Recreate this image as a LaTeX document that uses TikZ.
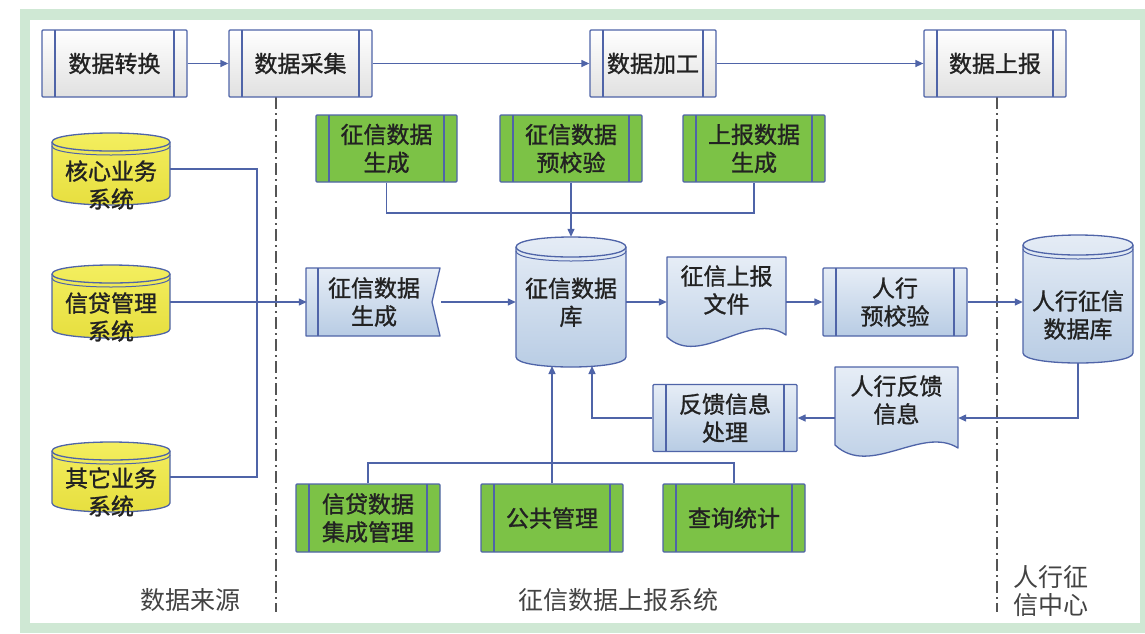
\documentclass[tikz,border=0pt]{standalone}
\usepackage{fontspec}
\newfontfamily\cjk[FakeBold=1.2]{Noto Sans CJK SC}
\newfontfamily\cjklab{Noto Sans CJK SC}
\usetikzlibrary{arrows.meta}
\definecolor{lineblue}{HTML}{4F64A8}
\definecolor{txt}{HTML}{222222}
\definecolor{boxgreen}{HTML}{7CC246}
\definecolor{lbtop}{HTML}{E6EDF6}
\definecolor{lbbot}{HTML}{B8CCE4}
\definecolor{ylw}{HTML}{F4EF60}
\definecolor{ylwb}{HTML}{E6DE3E}
\definecolor{framegreen}{HTML}{CFE8D4}
\definecolor{divgray}{HTML}{555555}

\newcommand\drawcyl[6]{%
  \path[#6, draw=lineblue, line width=1.3pt]
    (#1,{#3+#5}) -- (#1,{#4-#5})
    .. controls (#1,{#4+#5/3}) and (#2,{#4+#5/3}) .. (#2,{#4-#5})
    -- (#2,{#3+#5})
    .. controls (#2,{#3-#5/3}) and (#1,{#3-#5/3}) .. cycle;
  \draw[lineblue, line width=1.3pt]
    (#1,{#3+#5}) .. controls (#1,{#3+#5+4*#5/3}) and (#2,{#3+#5+4*#5/3}) .. (#2,{#3+#5});
  \draw[lineblue, line width=1pt]
    (#1,{#3+#5+4}) .. controls (#1,{#3+#5+4+4*#5/3}) and (#2,{#3+#5+4+4*#5/3}) .. (#2,{#3+#5+4});
}

\begin{document}
\begin{tikzpicture}[x=1pt,y=-1pt,
  base/.style={font=\cjk\fontsize{23}{28}\selectfont, text=txt, align=center, inner sep=0pt},
  proc/.style={base, rectangle, draw=lineblue, line width=1.3pt, rounded corners=1pt,
    path picture={\draw[lineblue, line width=1.3pt]
      ([xshift=13pt]path picture bounding box.north west) -- ([xshift=13pt]path picture bounding box.south west)
      ([xshift=-13pt]path picture bounding box.north east) -- ([xshift=-13pt]path picture bounding box.south east);}},
  topbox/.style={proc, top color=white, bottom color=black!12},
  greenbox/.style={proc, fill=boxgreen},
  bluebox/.style={proc, top color=lbtop, bottom color=lbbot},
  ghost/.style={base, rectangle},
  conn/.style={draw=lineblue, line width=1.3pt},
  arr/.style={conn, -{Triangle[length=8pt,width=7pt]}},
  divider/.style={draw=divgray, line width=1.5pt, dash pattern=on 12pt off 4pt on 2pt off 4pt},
  biglabel/.style={font=\cjklab\fontsize{25}{28}\selectfont, text=txt!85, inner sep=0pt}
]
\useasboundingbox (0,0) rectangle (1145,633);
% frame
\fill[framegreen] (20,9) rectangle (1145,633);
\fill[white] (30,20) rectangle (1140,623);

% dividers
\coordinate (d1t) at (276,97);
\coordinate (d1b) at (276,612);
\coordinate (d2t) at (997,97);
\coordinate (d2b) at (997,612);
\draw[divider] (d1t) -- (d1b);
\draw[divider] (d2t) -- (d2b);

% top row
\node[topbox, minimum width=145, minimum height=67] (n1) at (114.5,63.5) {数据转换};
\node[topbox, minimum width=143, minimum height=67] (n2) at (300.5,63.5) {数据采集};
\node[topbox, minimum width=126, minimum height=67] (n3) at (653,63.5) {数据加工};
\node[topbox, minimum width=142, minimum height=67] (n4) at (995,63.5) {数据上报};
\draw[arr] (n1.east) -- (n2.west);
\draw[arr] (n2.east) -- (n3.west);
\draw[arr] (n3.east) -- (n4.west);

% green row 2
\node[greenbox, minimum width=141, minimum height=67] (g1) at (386.5,148.5) {征信数据\\生成};
\node[greenbox, minimum width=142, minimum height=67] (g2) at (571,148.5) {征信数据\\预校验};
\node[greenbox, minimum width=142, minimum height=67] (g3) at (754,148.5) {上报数据\\生成};

% bottom green row
\node[greenbox, minimum width=144, minimum height=68] (b1) at (368,518) {信贷数据\\集成管理};
\node[greenbox, minimum width=142, minimum height=68] (b2) at (552,518) {公共管理};
\node[greenbox, minimum width=142, minimum height=68] (b3) at (734,518) {查询统计};

% left cylinders
\drawcyl{52}{170}{133}{205}{9}{top color=ylw, bottom color=ylwb}
\drawcyl{52}{170}{265}{338}{9}{top color=ylw, bottom color=ylwb}
\drawcyl{52}{170}{442}{512}{9}{top color=ylw, bottom color=ylwb}
\node[ghost, minimum width=118, minimum height=72] (c1) at (111,169) {};
\node[ghost, minimum width=118, minimum height=73] (c2) at (111,302) {};
\node[ghost, minimum width=118, minimum height=70] (c3) at (111,477) {};
\node[base] (c1t) at (111,185) {核心业务\\系统};
\node[base] (c2t) at (111,317) {信贷管理\\系统};
\node[base] (c3t) at (111,492) {其它业务\\系统};

% central database
\drawcyl{516}{626}{237}{367}{10}{top color=lbtop, bottom color=lbbot}
\node[ghost, minimum width=110, minimum height=130] (db) at (571,302) {};
\node[base, text height=16pt] (dbt) at (571,318) {征信数据\\库};

% PBOC database
\drawcyl{1023}{1133}{235}{363}{10}{top color=lbtop, bottom color=lbbot}
\node[ghost, minimum width=110, minimum height=128] (pdb) at (1078,299) {};
\node[base] (pdbt) at (1078,315) {人行征信\\数据库};

% source flag shape
\path[top color=lbtop, bottom color=lbbot, draw=lineblue, line width=1.3pt, line join=round]
  (306,268) -- (440,268) -- (432,302) -- (440,336) -- (306,336) -- cycle;
\draw[lineblue, line width=1.3pt] (318,268) -- (318,336);
\node[ghost, minimum width=134, minimum height=68] (src) at (374,302) {征信数据\\生成};

% document 1
\path[top color=lbtop, bottom color=lbbot, draw=lineblue, line width=1.3pt, line join=round]
  (667,257) -- (786,257) -- (786,335) .. controls (750,310) and (700,368) .. (667,337) -- cycle;
\node[ghost, minimum width=119, minimum height=66] (doc1) at (726.5,290) {征信上报\\文件};

% PBOC pre-check
\node[bluebox, minimum width=144, minimum height=68] (rp) at (895,302) {人行\\预校验};

% document 2
\path[top color=lbtop, bottom color=lbbot, draw=lineblue, line width=1.3pt, line join=round]
  (835,367) -- (958,367) -- (958,448) .. controls (922,425) and (870,478) .. (835,445) -- cycle;
\node[ghost, minimum width=123, minimum height=66] (doc2) at (896.5,400) {人行反馈\\信息};

% feedback processing
\node[bluebox, minimum width=144, minimum height=67] (fb) at (725,418) {反馈信息\\处理};

% connectors
\coordinate (lbus) at (257,0);
\draw[conn] (c1.east) -| (lbus |- c3.east) -- (c3.east);
\draw[arr] (c2.east) -- (src.west);
\draw[arr] (src.east) -- (db.west);
\draw[arr] (db.east) -- (doc1.west |- db.east);
\draw[arr] (doc1.east |- rp.west) -- (rp.west);
\draw[arr] (rp.east) -- (pdb.west |- rp.east);
\draw[arr] (pdb.south) |- (doc2.east |- fb.east);
\draw[arr] (doc2.west |- fb.east) -- (fb.east);
\coordinate (dbin1) at (592,366);
\coordinate (dbin2) at (552,366);
\draw[arr] (fb.west) -| (dbin1);
\draw[arr] (b2.north) -- (dbin2);
\coordinate (topbus) at (571,213);
\draw[conn] (g1.south) |- (topbus) -| (g3.south);
\draw[arr] (g2.south) -- (db.north);
\coordinate (botbus) at (552,463);
\draw[conn] (b1.north) |- (botbus) -| (b3.north);

% region labels
\node[biglabel] (lab1) at (190,600) {数据来源};
\node[biglabel] (lab2) at (618,600) {征信数据上报系统};
\node[biglabel, anchor=west, align=left] (lab3) at (1013,591) {人行征\\信中心};
\end{tikzpicture}
\end{document}
